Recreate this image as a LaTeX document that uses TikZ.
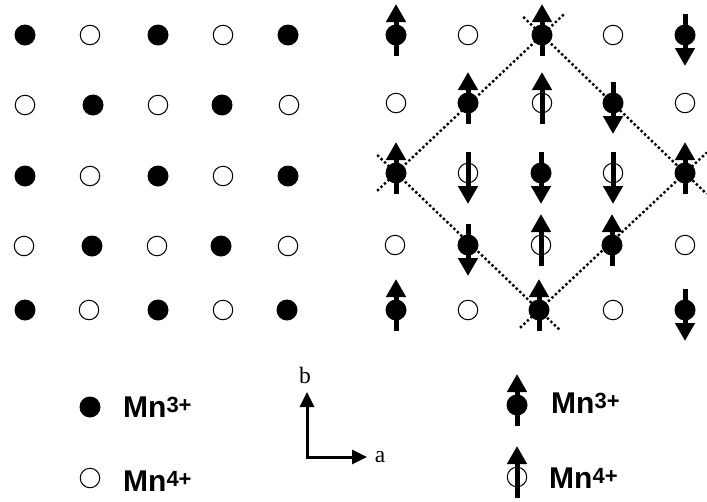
\documentclass[tikz,border=0pt]{standalone}
\usepackage{fontspec}
\setmainfont{Liberation Serif}
\newfontfamily\lsans{Liberation Sans}
\usetikzlibrary{arrows.meta}

\tikzset{
  mnthree/.style={circle, fill=black, inner sep=0pt, minimum size=21pt},
  mnfour/.style={circle, draw=black, fill=white, line width=1pt, inner sep=0pt, minimum size=19.5pt},
  spin/.style={line width=5pt, -{Triangle[width=19pt,length=18pt]}},
  axis/.style={line width=3pt, -{Triangle[width=14pt,length=15pt]}},
  cell/.style={line width=2.4pt, dash pattern=on 2.4pt off 2.4pt, shorten <=-26pt, shorten >=-30pt},
  ionlabel/.style={anchor=base west, inner sep=0pt, font=\lsans\bfseries\fontsize{30}{32}\selectfont},
  axlabel/.style={anchor=base, inner sep=0pt, font=\fontsize{23.5}{25}\selectfont}
}
% spin helpers: up / down arrow through a site
\newcommand{\spinup}[1]{\draw[spin] ([yshift=-21pt]#1.center) -- ([yshift=31pt]#1.center);}
\newcommand{\spindown}[1]{\draw[spin] ([yshift=21pt]#1.center) -- ([yshift=-31pt]#1.center);}
\newcommand{\charge}[1]{\raisebox{5pt}{\fontsize{22}{24}\selectfont #1}}

\begin{document}
\begin{tikzpicture}[x=1pt, y=-1pt]
\useasboundingbox (0,0) rectangle (707,501);

% ---------- charge order (left lattice) ----------
\node[mnthree] (c11) at (25,35) {};
\node[mnfour]  (c12) at (90,35) {};
\node[mnthree] (c13) at (158,35) {};
\node[mnfour]  (c14) at (223,35) {};
\node[mnthree] (c15) at (288,35) {};

\node[mnfour]  (c21) at (25,105) {};
\node[mnthree] (c22) at (93,105) {};
\node[mnfour]  (c23) at (158,105) {};
\node[mnthree] (c24) at (222,105) {};
\node[mnfour]  (c25) at (289,105) {};

\node[mnthree] (c31) at (25,176) {};
\node[mnfour]  (c32) at (90,176) {};
\node[mnthree] (c33) at (158,176) {};
\node[mnfour]  (c34) at (223,176) {};
\node[mnthree] (c35) at (288,176) {};

\node[mnfour]  (c41) at (24,246) {};
\node[mnthree] (c42) at (92,246) {};
\node[mnfour]  (c43) at (157,246) {};
\node[mnthree] (c44) at (221,246) {};
\node[mnfour]  (c45) at (288,246) {};

\node[mnthree] (c51) at (25,310) {};
\node[mnfour]  (c52) at (89,310) {};
\node[mnthree] (c53) at (158,310) {};
\node[mnfour]  (c54) at (223,310) {};
\node[mnthree] (c55) at (287,310) {};

% ---------- spin order (right lattice) ----------
\node[mnthree] (s11) at (396,35) {};
\node[mnfour]  (s12) at (468,35) {};
\node[mnthree] (s13) at (542,35) {};
\node[mnfour]  (s14) at (613,35) {};
\node[mnthree] (s15) at (685,35) {};

\node[mnfour]  (s21) at (396,103) {};
\node[mnthree] (s22) at (468,103) {};
\node[mnfour]  (s23) at (542,103) {};
\node[mnthree] (s24) at (613,103) {};
\node[mnfour]  (s25) at (685,103) {};

\node[mnthree] (s31) at (396,173) {};
\node[mnfour]  (s32) at (468,173) {};
\node[mnthree] (s33) at (541,173) {};
\node[mnfour]  (s34) at (613,173) {};
\node[mnthree] (s35) at (685,173) {};

\node[mnfour]  (s41) at (395,245) {};
\node[mnthree] (s42) at (468,245) {};
\node[mnfour]  (s43) at (541,245) {};
\node[mnthree] (s44) at (612,245) {};
\node[mnfour]  (s45) at (685,245) {};

\node[mnthree] (s51) at (396,310) {};
\node[mnfour]  (s52) at (468,310) {};
\node[mnthree] (s53) at (539,310) {};
\node[mnfour]  (s54) at (613,310) {};
\node[mnthree] (s55) at (685,310) {};

\spinup{s11} \spinup{s13} \spindown{s15}
\spinup{s22} \spinup{s23} \spindown{s24}
\spinup{s31} \spindown{s32} \spindown{s33} \spindown{s34} \spinup{s35}
\spindown{s42} \spinup{s43} \spinup{s44}
\spinup{s51} \spinup{s53} \spindown{s55}

% magnetic cell outline
\draw[cell] (s31.center) -- (s13.center);
\draw[cell] (s13.center) -- (s35.center);
\draw[cell] (s31.center) -- (s53.center);
\draw[cell] (s53.center) -- (s35.center);

% ---------- legends ----------
\node[mnthree] (k3) at (90,407) {};
\node[mnfour]  (k4) at (90,478) {};
\node[ionlabel] (t3) at (123,417) {Mn\charge{3+}};
\node[ionlabel] (t4) at (123,491) {Mn\charge{4+}};

\node[mnthree] (m3) at (517,405) {};
\spinup{m3}
\node[mnfour]  (m4) at (517,477) {};
\spinup{m4}
\node[ionlabel] (u3) at (551,413) {Mn\charge{3+}};
\node[ionlabel] (u4) at (549,488) {Mn\charge{4+}};

% crystal axes
\coordinate (o) at (307,457);
\coordinate (bt) at (307,392);
\coordinate (at) at (367,457);
\draw[axis] ([xshift=-1.5pt]o) -- (at);
\draw[axis] ([yshift=-1.5pt]o) -- (bt);
\node[axlabel] (lb) at (305,383) {b};
\node[axlabel] (la) at (380,462) {a};
\end{tikzpicture}
\end{document}
